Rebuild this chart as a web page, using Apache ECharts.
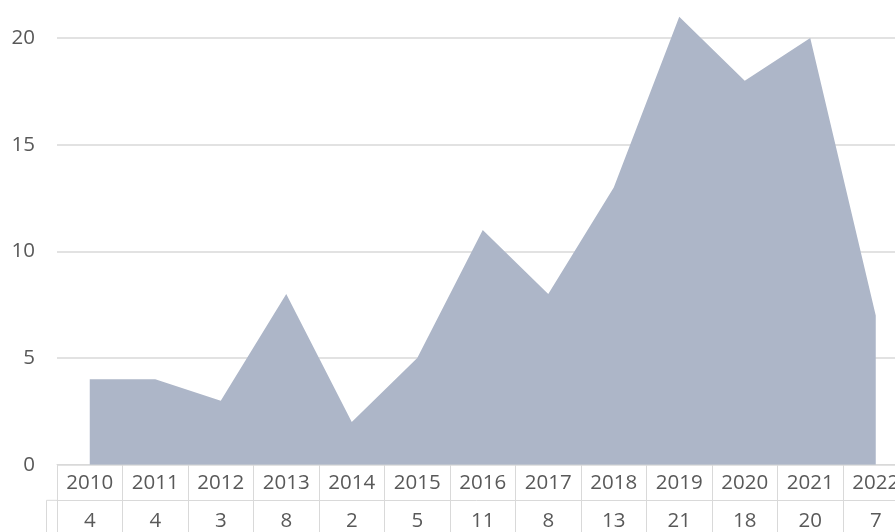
<!DOCTYPE html>
<html>
<head>
<meta charset="utf-8">
<script src="https://cdn.jsdelivr.net/npm/echarts@6/dist/echarts.min.js"></script>
<style>
html,body{margin:0;padding:0;background:#ffffff;}
#chart{width:895px;height:532px;}
</style>
</head>
<body>
<div id="chart"></div>
<script>
var years = ['2010','2011','2012','2013','2014','2015','2016','2017','2018','2019','2020','2021','2022'];
var counts = [4, 4, 3, 8, 2, 5, 11, 8, 13, 21, 18, 20, 7];
var yTicks = [0, 5, 10, 15, 20, 25];

var chart = echarts.init(document.getElementById('chart'), null, {renderer: 'canvas'});
var font = '"Open Sans", "Liberation Sans", sans-serif';
var textColor = '#595959';
var borderColor = '#d9d9d9';

chart.setOption({
  backgroundColor: '#ffffff',
  animation: false,
  grid: {left: 57, width: 851.5, top: -68.6, height: 533.3, containLabel: false, outerBoundsMode: 'none'},
  xAxis: [
    {
      type: 'category',
      data: years,
      position: 'bottom',
      boundaryGap: true,
      axisLine: {show: true, lineStyle: {color: borderColor, width: 1}},
      axisTick: {show: true, interval: 0, length: 35.5, lineStyle: {color: borderColor, width: 1}},
      axisLabel: {interval: 0, color: textColor, fontFamily: font, fontSize: 20.5, margin: 18, verticalAlign: 'middle'},
      splitLine: {show: false}
    },
    {
      type: 'category',
      data: counts.map(String),
      position: 'bottom',
      offset: 35.3,
      boundaryGap: true,
      axisLine: {show: true, lineStyle: {color: borderColor, width: 1}},
      axisTick: {show: true, interval: 0, length: 45, lineStyle: {color: borderColor, width: 1}},
      axisLabel: {interval: 0, color: textColor, fontFamily: font, fontSize: 20.5, margin: 21, verticalAlign: 'middle'},
      splitLine: {show: false}
    }
  ],
  yAxis: {
    type: 'value',
    min: yTicks[0],
    max: yTicks[yTicks.length - 1],
    interval: 5,
    axisLine: {show: false},
    axisTick: {show: false},
    axisLabel: {color: textColor, fontFamily: font, fontSize: 20.5, margin: 22},
    splitLine: {show: true, lineStyle: {color: borderColor, width: 1.5}}
  },
  graphic: [
    {type: 'line', shape: {x1: 46.5, y1: 500.3, x2: 57, y2: 500.3}, style: {stroke: borderColor, lineWidth: 1}},
    {type: 'line', shape: {x1: 46.5, y1: 500.3, x2: 46.5, y2: 540}, style: {stroke: borderColor, lineWidth: 1}}
  ],
  series: [{
    type: 'line',
    xAxisIndex: 0,
    data: counts,
    symbol: 'none',
    lineStyle: {width: 0, color: '#adb6c8'},
    areaStyle: {color: '#adb6c8', opacity: 1},
    z: 1
  }]
});
</script>
</body>
</html>
